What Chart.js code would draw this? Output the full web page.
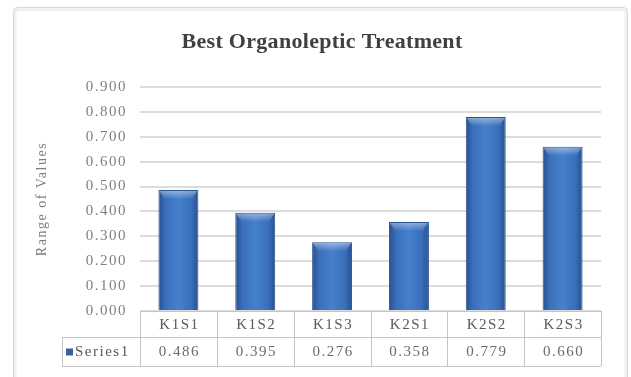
<!DOCTYPE html>
<html>
<head>
<meta charset="utf-8">
<script src="https://cdn.jsdelivr.net/npm/chart.js@4.4.1/dist/chart.umd.min.js"></script>
<style>
  html, body { margin: 0; padding: 0; background: #fff; }
  #wrap { width: 631px; height: 377px; }
</style>
</head>
<body>
<div id="wrap"><canvas id="barChart" width="631" height="377"></canvas></div>
<script>
const chartTitle = 'Best Organoleptic Treatment';
const yTitle = 'Range of Values';
const categories = ['K1S1', 'K1S2', 'K1S3', 'K2S1', 'K2S2', 'K2S3'];
const seriesName = 'Series1';
const seriesValues = [0.486, 0.395, 0.276, 0.358, 0.779, 0.660];
const yMin = 0;
const yMax = 0.9;
const yStep = 0.1;

const serif = '"Liberation Serif", "Times New Roman", serif';

// bar fill: darker edges, lighter middle, like the office cylinder look
const barFill = (context) => {
    const chart = context.chart;
    const xs = chart.scales.x;
    if (!xs || !chart.chartArea) return '#3d74c2';
    const cx = xs.getPixelForValue(context.dataIndex);
    const half = xs.width / categories.length * 0.52 / 2;
    const g = chart.ctx.createLinearGradient(cx - half, 0, cx + half, 0);
    g.addColorStop(0, '#284f8e');
    g.addColorStop(0.18, '#3a6fbb');
    g.addColorStop(0.5, '#4580cc');
    g.addColorStop(0.82, '#3a6fbb');
    g.addColorStop(1, '#284f8e');
    return g;
};

// outer frame + chart title; the reference text is a bit stretched, so some letter spacing
const framePlugin = {
    id: 'frame',
    beforeDraw(chart) {
        const ctx = chart.ctx;
        ctx.save();
        ctx.fillStyle = '#ffffff';
        ctx.fillRect(0, 0, chart.width, chart.height);
        ctx.strokeStyle = '#f0f0f0';
        ctx.lineWidth = 3;
        ctx.beginPath();
        ctx.roundRect(15, 9.5, 611, 380, 4);
        ctx.stroke();
        ctx.strokeStyle = '#d6d6d6';
        ctx.lineWidth = 1;
        ctx.beginPath();
        ctx.roundRect(13.5, 7.5, 614, 380, 4);
        ctx.stroke();

        ctx.letterSpacing = '0.3px';
        ctx.font = 'bold 22px ' + serif;
        ctx.fillStyle = '#404040';
        ctx.textAlign = 'center';
        ctx.textBaseline = 'alphabetic';
        ctx.fillText(chartTitle, 322, 48);
        ctx.restore();
        ctx.letterSpacing = '1.5px';
    },
    afterDraw(chart) {
        chart.ctx.letterSpacing = '0px';
    }
};

// light bevel on top of each bar
const bevelPlugin = {
    id: 'bevel',
    afterDatasetsDraw(chart) {
        const ctx = chart.ctx;
        chart.getDatasetMeta(0).data.forEach((bar) => {
            const left = bar.x - bar.width / 2;
            const g = ctx.createLinearGradient(0, bar.y, 0, bar.y + 9);
            g.addColorStop(0, 'rgba(255,255,255,0.45)');
            g.addColorStop(1, 'rgba(255,255,255,0)');
            ctx.save();
            ctx.fillStyle = g;
            ctx.beginPath();
            ctx.moveTo(left + 1, bar.y + 1);
            ctx.lineTo(left + bar.width - 1, bar.y + 1);
            ctx.lineTo(left + bar.width - 6, bar.y + 9);
            ctx.lineTo(left + 6, bar.y + 9);
            ctx.closePath();
            ctx.fill();
            ctx.restore();
        });
    }
};

// data table under the plot
const dataTablePlugin = {
    id: 'dataTable',
    afterDraw(chart) {
        const ctx = chart.ctx;
        const xs = chart.scales.x;
        const area = chart.chartArea;
        const top = area.bottom;
        const mid = top + 26;
        const bottom = top + 55;
        const labelLeft = 62;
        const colW = xs.width / categories.length;

        ctx.save();
        ctx.strokeStyle = '#c4c4c4';
        ctx.lineWidth = 1;
        ctx.beginPath();
        ctx.moveTo(area.left, top + 0.5); ctx.lineTo(area.right, top + 0.5);
        ctx.moveTo(labelLeft, mid + 0.5); ctx.lineTo(area.right, mid + 0.5);
        ctx.moveTo(labelLeft, bottom + 0.5); ctx.lineTo(area.right, bottom + 0.5);
        ctx.moveTo(labelLeft + 0.5, mid); ctx.lineTo(labelLeft + 0.5, bottom);
        for (let i = 0; i <= categories.length; i++) {
            const x = Math.round(area.left + i * colW) + 0.5;
            ctx.moveTo(x, top); ctx.lineTo(x, bottom);
        }
        ctx.stroke();

        ctx.letterSpacing = '1.5px';
        ctx.font = '15px ' + serif;
        ctx.textAlign = 'center';
        ctx.textBaseline = 'middle';
        categories.forEach((c, i) => {
            const cx = xs.getPixelForValue(i) + 1;
            ctx.fillStyle = '#595959';
            ctx.fillText(c, cx, (top + mid) / 2 + 1);
            ctx.fillStyle = '#6b6b6b';
            ctx.fillText(seriesValues[i].toFixed(3), cx, (mid + bottom) / 2 + 1);
        });

        // legend key + series name
        ctx.fillStyle = '#3a5da6';
        ctx.fillRect(labelLeft + 4, (mid + bottom) / 2 - 3, 7, 7);
        ctx.fillStyle = '#595959';
        ctx.textAlign = 'left';
        ctx.fillText(seriesName, labelLeft + 13, (mid + bottom) / 2 + 1);
        ctx.restore();
    }
};

new Chart(document.getElementById('barChart').getContext('2d'), {
    type: 'bar',
    data: {
        labels: categories,
        datasets: [{
            label: seriesName,
            data: seriesValues,
            backgroundColor: barFill,
            borderColor: '#2b5494',
            borderWidth: 1,
            barPercentage: 0.52,
            categoryPercentage: 1
        }]
    },
    options: {
        responsive: false,
        animation: false,
        layout: { padding: { left: 14, right: 30, top: 87, bottom: 66 } },
        plugins: {
            legend: { display: false },
            tooltip: { enabled: false },
            title: { display: false }
        },
        scales: {
            x: {
                display: false,
                offset: true
            },
            y: {
                min: yMin,
                max: yMax,
                border: { display: false },
                grid: { color: '#dcdcdc', lineWidth: 2, drawTicks: false },
                ticks: {
                    stepSize: yStep,
                    padding: 13,
                    color: '#808080',
                    font: { family: serif, size: 15 },
                    callback: (v) => Number(v).toFixed(3)
                },
                title: {
                    display: true,
                    text: yTitle,
                    color: '#808080',
                    font: { family: serif, size: 14 },
                    padding: { top: 20, bottom: 0 }
                },
                afterFit: (scale) => { scale.width = 126; }
            }
        }
    },
    plugins: [framePlugin, bevelPlugin, dataTablePlugin]
});
</script>
</body>
</html>
